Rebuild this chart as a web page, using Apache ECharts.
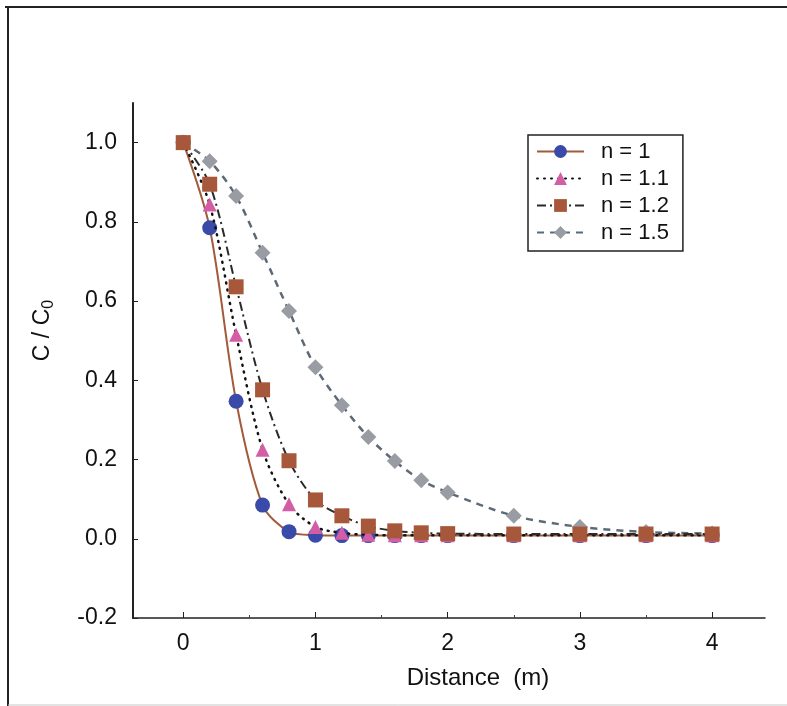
<!DOCTYPE html>
<html>
<head>
<meta charset="utf-8">
<script src="https://cdn.jsdelivr.net/npm/echarts@6/dist/echarts.min.js"></script>
<style>
  html, body { margin: 0; padding: 0; background: #fff; }
  #chart { width: 787px; height: 706px; }
</style>
</head>
<body>
<div id="chart"></div>
<script>
// distance along the column (m)
var distance = [0, 0.2, 0.4, 0.6, 0.8, 1.0, 1.2, 1.4, 1.6, 1.8, 2.0, 2.5, 3.0, 3.5, 4.0];

// C / C0 for each n
var n1  = [1.0, 0.785, 0.347, 0.085, 0.018, 0.009, 0.008, 0.008, 0.008, 0.008, 0.008, 0.008, 0.008, 0.008, 0.008];
var n11 = [1.0, 0.844, 0.515, 0.225, 0.087, 0.030, 0.015, 0.010, 0.009, 0.009, 0.009, 0.009, 0.009, 0.009, 0.009];
var n12 = [1.0, 0.895, 0.636, 0.376, 0.197, 0.098, 0.058, 0.032, 0.020, 0.015, 0.013, 0.012, 0.012, 0.012, 0.012];
var n15 = [1.0, 0.953, 0.865, 0.722, 0.575, 0.433, 0.337, 0.257, 0.196, 0.148, 0.117, 0.058, 0.030, 0.017, 0.013];

var seriesNames = ['n = 1', 'n = 1.1', 'n = 1.2', 'n = 1.5'];
var xTicks = [0, 1, 2, 3, 4];
var xMinorTicks = [0.5, 1.5, 2.5, 3.5];
var yTicks = [-0.2, 0, 0.2, 0.4, 0.6, 0.8, 1.0];

var FONT = '"Liberation Sans", Arial, sans-serif';

function pairs(ys) {
  return distance.map(function (x, i) { return [x, ys[i]]; });
}

var chart = echarts.init(document.getElementById('chart'));

var option = {
  backgroundColor: '#fff',
  animation: false,
  textStyle: { fontFamily: FONT },
  grid: { left: 133, right: 22, top: 103, bottom: 88 },
  legend: {
    orient: 'vertical',
    left: 528,
    top: 135,
    padding: [3, 14, 5, 8],
    backgroundColor: '#fff',
    borderColor: '#222',
    borderWidth: 1.5,
    itemWidth: 47,
    itemHeight: 16,
    itemGap: 0,
    textStyle: { fontFamily: FONT, fontSize: 22, color: '#111', lineHeight: 27, padding: [0, 0, 0, 12] },
    data: seriesNames
  },
  xAxis: [{
    type: 'value',
    min: -0.38,
    max: 4.4,
    name: 'Distance  (m)',
    nameLocation: 'middle',
    nameGap: 48,
    nameTextStyle: { fontFamily: FONT, fontSize: 24, color: '#111', padding: [0, 0, 0, 58] },
    axisLine: { onZero: false, lineStyle: { color: '#222', width: 1.5 } },
    axisTick: { inside: true, length: 6, customValues: xTicks, lineStyle: { color: '#222' } },
    axisLabel: { customValues: xTicks, fontFamily: FONT, fontSize: 23, color: '#111', margin: 14 },
    splitLine: { show: false }
  }, {
    // half-unit minor ticks on the bottom axis
    type: 'value',
    min: -0.38,
    max: 4.4,
    position: 'bottom',
    axisLine: { show: false, onZero: false },
    axisTick: { inside: true, length: 3, customValues: xMinorTicks, lineStyle: { color: '#444' } },
    axisLabel: { show: false },
    splitLine: { show: false }
  }],
  yAxis: {
    type: 'value',
    min: -0.2,
    max: 1.1,
    name: 'C / C{s|0}',
    nameLocation: 'middle',
    nameGap: 76,
    nameTextStyle: {
      fontFamily: FONT, fontSize: 23, color: '#111', padding: [0, 0, 0, 60],
      rich: { s: { fontFamily: FONT, fontSize: 16, color: '#111', verticalAlign: 'bottom', padding: [12, 0, 0, 0] } }
    },
    axisLine: { onZero: false, lineStyle: { color: '#222', width: 2 } },
    axisTick: { inside: true, length: 5, customValues: yTicks, lineStyle: { color: '#222' } },
    axisLabel: {
      customValues: yTicks, fontFamily: FONT, fontSize: 23, color: '#111', margin: 16,
      formatter: function (v) { return v.toFixed(1); }
    },
    splitLine: { show: false }
  },
  series: [{
    name: seriesNames[0],
    type: 'line',
    data: pairs(n1),
    smooth: 0.3,
    symbol: 'circle',
    symbolSize: 15,
    itemStyle: { color: '#3a4aa8' },
    lineStyle: { color: '#a25a3c', width: 2 },
    z: 2
  }, {
    name: seriesNames[1],
    type: 'line',
    data: pairs(n11),
    smooth: 0.3,
    symbol: 'triangle',
    symbolSize: 14,
    itemStyle: { color: '#d45ea6' },
    lineStyle: { color: '#111', width: 2.5, type: [1, 6], cap: 'round' },
    z: 3
  }, {
    name: seriesNames[2],
    type: 'line',
    data: pairs(n12),
    smooth: 0.3,
    symbol: 'rect',
    symbolSize: 15,
    itemStyle: { color: '#a8583a' },
    lineStyle: { color: '#2a2a2a', width: 2, type: [9, 4, 2, 4] },
    z: 5
  }, {
    name: seriesNames[3],
    type: 'line',
    data: pairs(n15),
    smooth: 0.3,
    symbol: 'diamond',
    symbolSize: 16,
    itemStyle: { color: '#9a9ca4' },
    lineStyle: { color: '#5c6a78', width: 2.5, type: [7, 6] },
    z: 4
  }],
  graphic: [
    { type: 'line', shape: { x1: 5, y1: 7, x2: 787, y2: 7 }, style: { stroke: '#222', lineWidth: 2 } },
    { type: 'line', shape: { x1: 8, y1: 7, x2: 8, y2: 706 }, style: { stroke: '#222', lineWidth: 2 } },
    { type: 'line', shape: { x1: 8, y1: 705, x2: 787, y2: 705 }, style: { stroke: '#c8c8c8', lineWidth: 1 } }
  ]
};

chart.setOption(option);
</script>
</body>
</html>
